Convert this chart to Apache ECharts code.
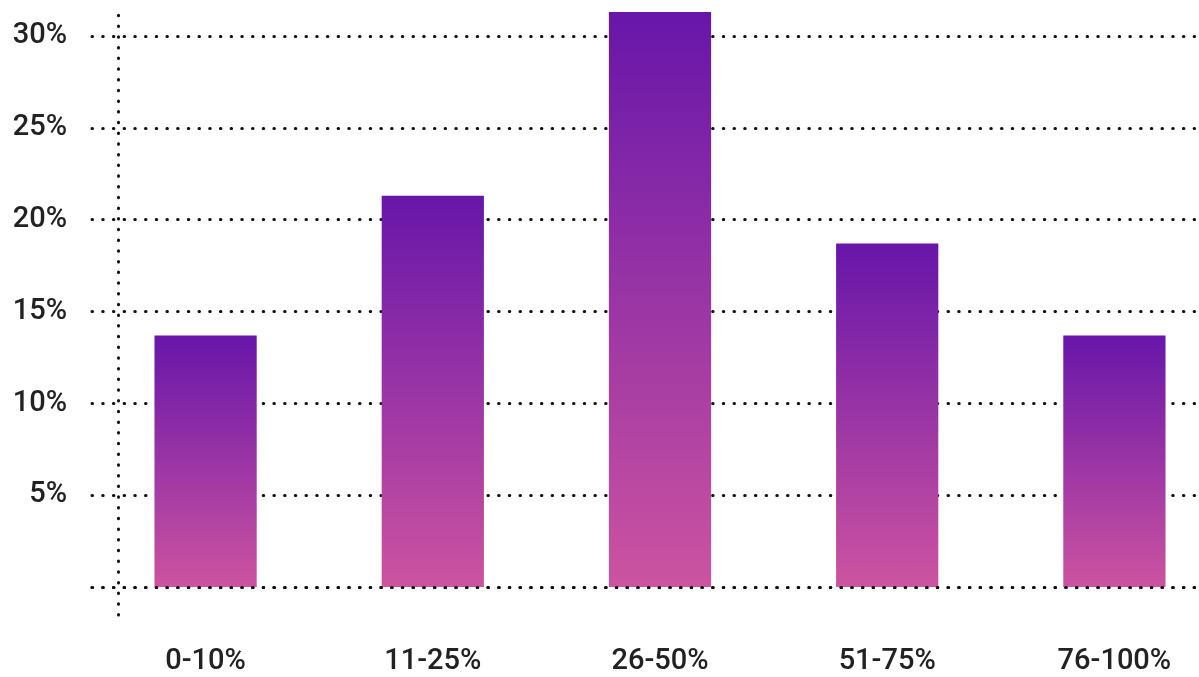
<!DOCTYPE html>
<html>
<head>
<meta charset="utf-8">
<script src="https://cdn.jsdelivr.net/npm/echarts@6/dist/echarts.min.js"></script>
<style>
  html, body { margin: 0; padding: 0; background: #ffffff; }
  #chart { width: 1199px; height: 677px; }
</style>
</head>
<body>
<div id="chart"></div>
<script>
// Share of respondents by bucket
const categories = ['0-10%', '11-25%', '26-50%', '51-75%', '76-100%'];
const shares = [13.7, 21.3, 31.3, 18.7, 13.7];
const yTicks = [0, 5, 10, 15, 20, 25, 30];

const dotted = { color: '#111111', width: 3, type: [0.5, 10.2], cap: 'round' };
const labelFont = { fontFamily: 'Roboto', fontSize: 29, fontWeight: 500, color: '#222222' };

const chart = echarts.init(document.getElementById('chart'), null, { renderer: 'canvas' });

chart.setOption({
  animation: false,
  grid: [
    { left: 92, width: 1136, top: 36, bottom: 90, containLabel: false, outerBoundsMode: 'none' },
    // grid that only carries the vertical dotted axis line
    { left: 118, right: 0, top: 12, bottom: 62, containLabel: false, outerBoundsMode: 'none' }
  ],
  xAxis: [
    {
      gridIndex: 0,
      type: 'category',
      data: categories,
      z: 3,
      axisLine: { show: true, lineStyle: dotted },
      axisTick: { show: false },
      axisLabel: Object.assign({ margin: 60 }, labelFont),
      splitLine: { show: false }
    },
    { gridIndex: 1, type: 'value', show: false }
  ],
  yAxis: [
    {
      gridIndex: 0,
      type: 'value',
      min: yTicks[0],
      max: yTicks[yTicks.length - 1],
      interval: yTicks[1] - yTicks[0],
      axisLine: { show: false },
      axisTick: { show: false },
      axisLabel: Object.assign({
        margin: 25,
        formatter: v => (v === 0 ? '' : v + '%')
      }, labelFont),
      splitLine: { show: true, lineStyle: dotted }
    },
    {
      gridIndex: 1,
      type: 'value',
      position: 'left',
      axisLine: { show: true, lineStyle: dotted },
      axisTick: { show: false },
      axisLabel: { show: false },
      splitLine: { show: false }
    }
  ],
  series: [
    {
      type: 'bar',
      xAxisIndex: 0,
      yAxisIndex: 0,
      data: shares,
      barWidth: '45%',
      clip: false,
      itemStyle: {
        color: new echarts.graphic.LinearGradient(0, 0, 0, 1, [
          { offset: 0, color: '#6716a9' },
          { offset: 1, color: '#cc54a0' }
        ])
      }
    }
  ]
});
</script>
</body>
</html>
